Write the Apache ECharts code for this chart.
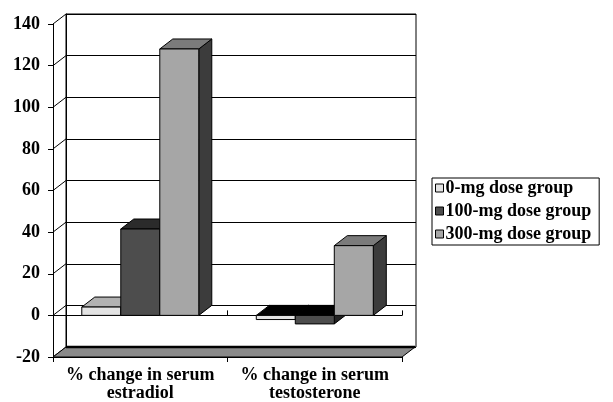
<!DOCTYPE html>
<html><head><meta charset="utf-8">
<script src="https://cdn.jsdelivr.net/npm/echarts@6/dist/echarts.min.js"></script>
<style>html,body{margin:0;padding:0;background:#fff;}#c{width:613px;height:402px;}</style>
</head><body><div id="c"></div>
<script>
const categories = ['% change in serum\nestradiol', '% change in serum\ntestosterone'];
const seriesNames = ['0-mg dose group', '100-mg dose group', '300-mg dose group'];
const dose0 = [4, -2];
const dose100 = [41.5, -4.1];
const dose300 = [128, 33.5];
const yMin = -20, yMax = 140, yStep = 20;
const yTicks = [-20, 0, 20, 40, 60, 80, 100, 120, 140];

const FONT = '"Liberation Serif", "Times New Roman", serif';
const DX = 13, DY = -10;          // 3D depth offset (px)
const GAP = 0.165, BARF = 0.2235; // fractions of the category band
const faces = [
  {front: '#e3e3e3', top: '#b2b2b2', side: '#7a7a7a'},
  {front: '#4d4d4d', top: '#2b2b2b', side: '#222222'},
  {front: '#a6a6a6', top: '#7b7b7b', side: '#3c3c3c'}
];

function barRender(idx) {
  return function (params, api) {
    const cat = api.value(0), v = api.value(1);
    const band = api.size([1, 0])[0];
    const base = api.coord([cat, 0]);
    const bandStart = base[0] - band / 2;
    const x = bandStart + band * (GAP + idx * BARF);
    const w = band * BARF;
    const y0 = base[1];
    const yv = api.coord([cat, v])[1];
    const yTop = Math.min(y0, yv), yBot = Math.max(y0, yv);
    const f = faces[idx];
    const topColor = v >= 0 ? f.top : '#000000';
    const st = {stroke: '#000', lineWidth: 1};
    return {
      type: 'group',
      children: [
        {type: 'polygon', shape: {points: [[x + w, yTop], [x + w + DX, yTop + DY], [x + w + DX, yBot + DY], [x + w, yBot]]},
         style: Object.assign({fill: f.side}, st)},
        {type: 'polygon', shape: {points: [[x, yTop], [x + w, yTop], [x + w + DX, yTop + DY], [x + DX, yTop + DY]]},
         style: Object.assign({fill: topColor}, st)},
        {type: 'rect', shape: {x: x, y: yTop, width: w, height: yBot - yTop},
         style: Object.assign({fill: f.front}, st)}
      ]
    };
  };
}

function wallRender(params, api) {
  const v = api.value(0);
  const cs = params.coordSys;
  const y = api.coord([0, v])[1];
  return {type: 'line', shape: {x1: cs.x, y1: y, x2: cs.x + DX, y2: y + DY},
          style: {stroke: '#000', lineWidth: 1}};
}

function floorRender(params, api) {
  const cs = params.coordSys;
  const y = api.coord([0, yMin])[1];
  const x1 = cs.x, x2 = cs.x + cs.width;
  return {
    type: 'group',
    children: [
      {type: 'polygon', shape: {points: [[x1, y], [x2, y], [x2 + DX, y + DY], [x1 + DX, y + DY]]},
       style: {fill: '#8a8a8a', stroke: '#000', lineWidth: 1}},
      {type: 'line', shape: {x1: x1 + DX, y1: y + DY, x2: x2 + DX, y2: y + DY},
       style: {stroke: '#000', lineWidth: 2.5}}
    ]
  };
}

const vals = [dose0, dose100, dose300];
const barSeries = seriesNames.map((name, i) => ({
  name: name,
  type: 'custom',
  xAxisIndex: 0, yAxisIndex: 0,
  itemStyle: {color: faces[i].front, borderColor: '#000', borderWidth: 1},
  renderItem: barRender(i),
  data: vals[i].map((v, k) => [k, v]),
  z: 10 + i
}));

const chart = echarts.init(document.getElementById('c'), null, {renderer: 'canvas'});
chart.setOption({
  backgroundColor: '#fff',
  animation: false,
  grid: [
    {left: 53, top: 24, width: 349, height: 333},
    {left: 66, top: 14, width: 350, height: 333, show: true, borderColor: '#000', borderWidth: 1, backgroundColor: 'transparent'}
  ],
  xAxis: [
    {type: 'category', gridIndex: 0, data: categories, position: 'bottom',
     axisLine: {onZero: false, lineStyle: {color: '#000', width: 1}},
     axisTick: {show: true, length: 5, lineStyle: {color: '#000'}},
     axisLabel: {interval: 0, hideOverlap: false, color: '#000', fontFamily: FONT, fontWeight: 'bold', fontSize: 18, lineHeight: 18, margin: 9}},
    {type: 'category', gridIndex: 0, data: categories,
     axisLine: {onZero: true, lineStyle: {color: '#000', width: 1}},
     axisTick: {show: true, length: 5, inside: false, lineStyle: {color: '#000'}},
     axisLabel: {show: false}},
    {type: 'category', gridIndex: 1, data: categories, show: false}
  ],
  yAxis: [
    {type: 'value', gridIndex: 0, min: yMin, max: yMax, interval: yStep,
     axisLine: {show: true, lineStyle: {color: '#000'}},
     axisTick: {show: true, length: 5, lineStyle: {color: '#000'}},
     splitLine: {show: false},
     axisLabel: {color: '#000', fontFamily: FONT, fontWeight: 'bold', fontSize: 18, margin: 13}},
    {type: 'value', gridIndex: 1, min: yMin, max: yMax, interval: yStep,
     axisLine: {show: true, lineStyle: {color: '#000'}},
     axisTick: {show: false}, axisLabel: {show: false},
     splitLine: {show: true, lineStyle: {color: '#000', width: 1}}}
  ],
  legend: {
    orient: 'vertical', left: 432, top: 178,
    data: seriesNames,
    icon: 'rect', itemWidth: 8, itemHeight: 8, itemGap: 5,
    padding: [1, 8, 2, 3],
    borderColor: '#000', borderWidth: 1,
    itemStyle: {borderColor: '#000', borderWidth: 1},
    textStyle: {color: '#000', fontFamily: FONT, fontWeight: 'bold', fontSize: 18, padding: [0, 0, 0, -3]}
  },
  series: [
    {type: 'custom', name: 'wall', xAxisIndex: 0, yAxisIndex: 0, renderItem: wallRender,
     data: yTicks.map(t => [t]), encode: {y: 0}, z: 3, silent: true},
    {type: 'custom', name: 'floor', xAxisIndex: 0, yAxisIndex: 0, renderItem: floorRender,
     data: [[yMin]], encode: {y: 0}, z: 4, silent: true}
  ].concat(barSeries)
});
</script></body></html>
